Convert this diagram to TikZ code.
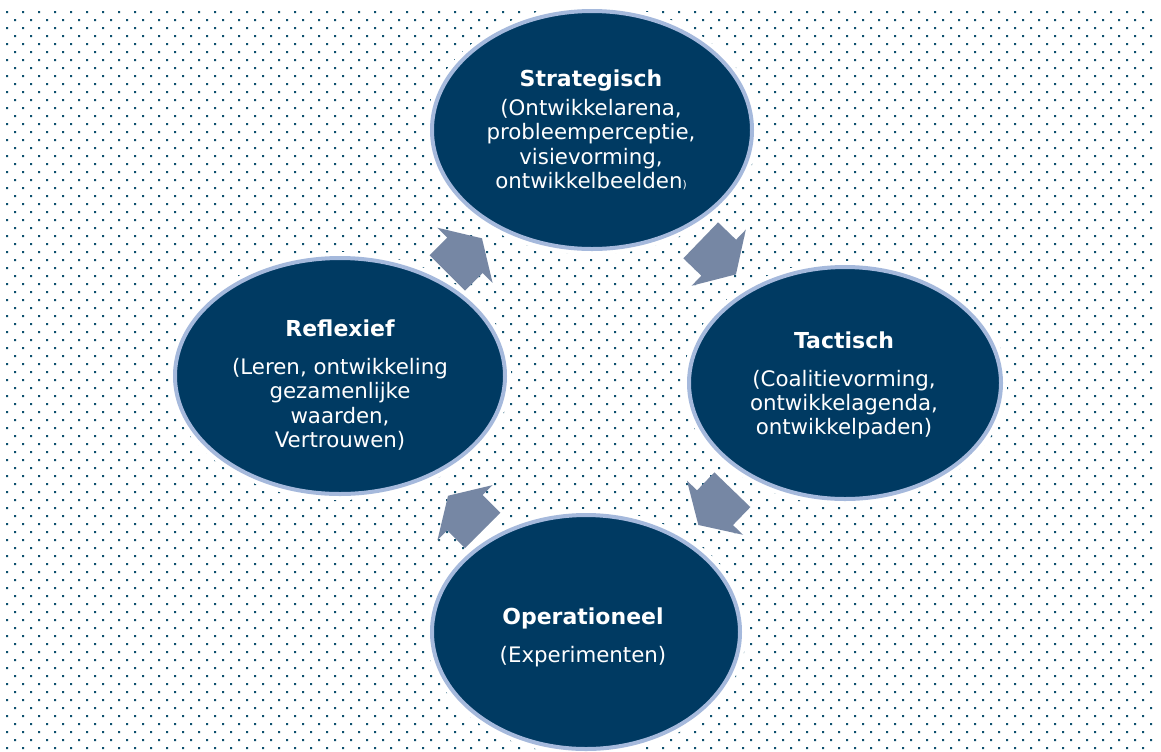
\documentclass[tikz,border=0pt]{standalone}
\usepackage{fontspec}
\setmainfont{DejaVu Sans}
\usetikzlibrary{shapes.geometric}
\definecolor{navy}{RGB}{0,58,98}
\definecolor{rim}{RGB}{165,185,220}
\definecolor{arrowcol}{RGB}{118,135,164}
\definecolor{dotcol}{RGB}{14,80,110}
\newcommand\ttlfont{\fontsize{16.5}{19}\selectfont\bfseries}
\tikzset{
  bubble/.style={ellipse, fill=navy, draw=rim, line width=3pt, inner sep=0pt, outer sep=0pt,
    preaction={draw=white, line width=9pt}},
  txt/.style={text=white, align=center, font=\fontsize{16}{18.3}\selectfont},
  blockarrow/.pic={\fill[arrowcol] (-25,-25) -- (0,-25) -- (0,-39) -- (24,0) -- (0,39) -- (0,25) -- (-25,25) -- cycle;}
}
\begin{document}
\begin{tikzpicture}[x=0.75pt,y=-0.75pt]
\useasboundingbox (0,0) rectangle (1161,751);
\fill[white] (0,0) rectangle (1161,751);
% dotted background
\fill[dotcol] \foreach \j in {0,...,46} { \foreach \i in {0,...,71} { ({6+16*\i},{11+16*\j}) rectangle ++(2,2) } };
\fill[dotcol] \foreach \j in {0,...,45} { \foreach \i in {0,...,71} { ({14+16*\i},{19+16*\j}) rectangle ++(2,2) } };
% bubbles
\node[bubble, minimum width=240pt, minimum height=178.5pt] (strat) at (592,130) {};
\node[bubble, minimum width=247.5pt, minimum height=177pt] (refl) at (340,376) {};
\node[bubble, minimum width=234pt, minimum height=174pt] (tact) at (845,383) {};
\node[bubble, minimum width=231pt, minimum height=175.5pt] (oper) at (586,632) {};
% texts
\node[txt] (strattxt) at (591,130) {{\ttlfont Strategisch}\\[3.5pt](Ontwikkelarena,\\probleemperceptie,\\visievorming,\\ontwikkelbeelden{\fontsize{8}{9}\selectfont)}};
\node[txt] (refltxt) at (340,385) {{\ttlfont Reflexief}\\[10pt](Leren, ontwikkeling\\gezamenlijke\\waarden,\\Vertrouwen)};
\node[txt] (tacttxt) at (844,385.5) {{\ttlfont Tactisch}\\[10pt](Coalitievorming,\\ontwikkelagenda,\\ontwikkelpaden)};
\node[txt] (opertxt) at (583,637) {{\ttlfont Operationeel}\\[10pt](Experimenten)};
% block arrows
\pic[rotate=45] (a1) at (465,255.3) {blockarrow};
\pic[rotate=-44] (a2) at (718.7,257.7) {blockarrow};
\pic[rotate=-134] (a3) at (715,507.7) {blockarrow};
\pic[rotate=135] (a4) at (465,512.7) {blockarrow};
\end{tikzpicture}
\end{document}
